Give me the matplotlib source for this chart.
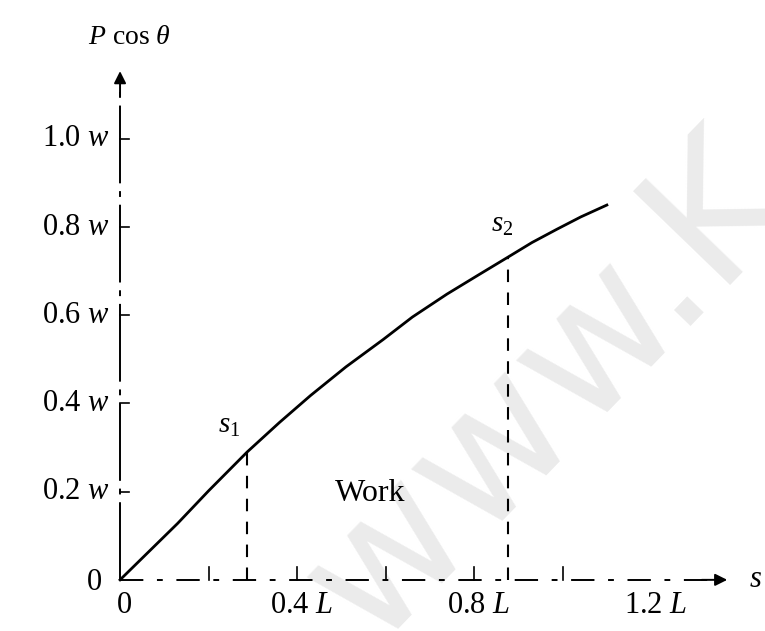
import matplotlib.pyplot as plt

plt.rcParams['font.family'] = ['Liberation Serif', 'DejaVu Serif']
plt.rcParams['mathtext.fontset'] = 'custom'
plt.rcParams['mathtext.rm'] = 'Liberation Serif'
plt.rcParams['mathtext.it'] = 'Liberation Serif:italic'

# P cos(theta) against s (s in units of L, P in units of w)
s_curve = [0.0, 0.13, 0.2, 0.287, 0.36, 0.43, 0.51, 0.594, 0.66, 0.738, 0.81, 0.876, 0.93, 0.986, 1.04, 1.099]
p_curve = [0.0, 0.128, 0.202, 0.29, 0.357, 0.418, 0.483, 0.545, 0.596, 0.648, 0.692, 0.732, 0.765, 0.795, 0.823, 0.85]

# the two limits of the work integral
s_marks = [0.287, 0.876]
p_marks = [0.29, 0.732]
mark_labels = ["$s_1$", "$s_2$"]

y_ticks = [0.2, 0.4, 0.6, 0.8, 1.0]
y_labels = ["0.2 $w$", "0.4 $w$", "0.6 $w$", "0.8 $w$", "1.0 $w$"]
x_ticks = [0.2, 0.4, 0.6, 0.8, 1.0]
x_label_pos = [0.0, 0.4, 0.8, 1.2]
x_labels = ["0", "0.4 $L$", "0.8 $L$", "1.2 $L$"]

s_end = 1.377
p_end = 1.16

fig = plt.figure(figsize=(7.65, 6.31), dpi=100)
ax = fig.add_axes([0, 0, 1, 1])
ax.set_xlim(-0.271, 1.456)
ax.set_ylim(-0.116, 1.315)
ax.axis('off')

# watermark
ax.text(0.569, -0.154, "www.K", color='#ebebeb', fontsize=133,
        family='DejaVu Sans', rotation=46, rotation_mode='anchor',
        ha='left', va='baseline', zorder=0)

# axes drawn by hand, broken like the original
ax.plot([0, 0], [0, p_end - 0.05], color='black', lw=1.4,
        linestyle=(0, (40, 4, 3, 4)), zorder=2)
ax.plot([0, s_end - 0.05], [0, 0], color='black', lw=1.4,
        linestyle=(0, (12, 7, 3, 7)), zorder=2)
ax.annotate("", xy=(0, p_end), xytext=(0, p_end - 0.07),
            arrowprops=dict(arrowstyle='-|>', color='black', lw=1.4,
                            mutation_scale=18))
ax.annotate("", xy=(s_end, 0), xytext=(s_end - 0.07, 0),
            arrowprops=dict(arrowstyle='-|>', color='black', lw=1.4,
                            mutation_scale=18))

for y, lab in zip(y_ticks, y_labels):
    ax.plot([0, 0.02], [y, y], color='black', lw=1.2)
    ax.annotate(lab, (0, y), xytext=(-7, 0), textcoords='offset points',
                ha='right', va='center', fontsize=22)
ax.annotate("0", (0, 0), xytext=(-13, -2), textcoords='offset points',
            ha='right', va='center', fontsize=22)

for x in x_ticks:
    ax.plot([x, x], [0, 0.03], color='black', lw=1.2)
for x, lab in zip(x_label_pos, x_labels):
    ax.annotate(lab, (x, 0), xytext=(3, -8), textcoords='offset points',
                ha='center', va='top', fontsize=22)

ax.annotate(r"$P$ cos $\theta$", (0, p_end), xytext=(7, 22),
            textcoords='offset points', ha='center', va='center', fontsize=20)
ax.annotate("$s$", (s_end, 0), xytext=(14, 0), textcoords='offset points',
            ha='left', va='center', fontsize=22)

# the curve and the two bounding ordinates
ax.plot(s_curve, p_curve, color='black', lw=2.0, zorder=3)
for s, p, lab, off in zip(s_marks, p_marks, mark_labels, [(-13, 9), (-4, 14)]):
    ax.plot([s, s], [0, p], color='black', lw=1.5, linestyle=(0, (6, 5)), zorder=3)
    ax.annotate(lab, (s, p), xytext=off, textcoords='offset points',
                ha='center', va='bottom', fontsize=21)

ax.text(0.565, 0.195, "Work", fontsize=23, ha='center', va='center')

fig.savefig("out.png", dpi=100)
